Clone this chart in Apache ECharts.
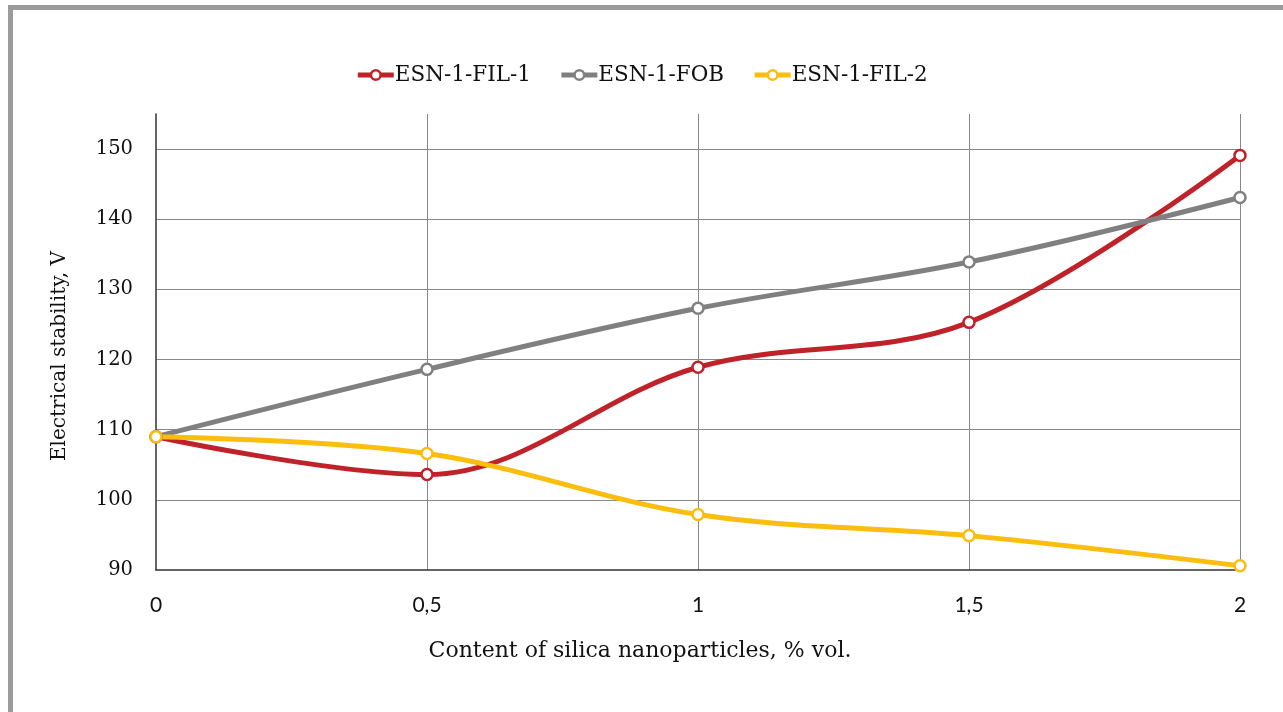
<!DOCTYPE html>
<html>
<head>
<meta charset="utf-8">
<script src="https://cdn.jsdelivr.net/npm/echarts@6/dist/echarts.min.js"></script>
<style>
  html, body { margin: 0; padding: 0; background: #fff; }
  #chart { width: 1283px; height: 712px; }
</style>
</head>
<body>
<div id="chart"></div>
<script>
// silica content, % vol.
const contents = [0, 0.5, 1, 1.5, 2];
const seriesNames = ['ESN-1-FIL-1', 'ESN-1-FOB', 'ESN-1-FIL-2'];
const fil1 = [109, 103.6, 118.9, 125.3, 149.1];
const fob = [109, 118.6, 127.3, 133.9, 143.1];
const fil2 = [109, 106.6, 97.9, 94.9, 90.6];
const colors = ['#c0222a', '#808080', '#fbbd0e'];

const serif = '"DejaVu Serif", "Liberation Serif", serif';
const sans = 'Lato, "Open Sans", sans-serif';

const myChart = echarts.init(document.getElementById('chart'));

function makeSeries(name, values, color) {
  return {
    name: name,
    type: 'line',
    smooth: 0.35,
    data: contents.map((c, i) => [c, values[i]]),
    symbol: 'circle',
    symbolSize: 11,
    itemStyle: { color: '#fff', borderColor: color, borderWidth: 2.5 },
    lineStyle: { color: color, width: 5 },
    emphasis: { disabled: true },
  };
}

const option = {
  animation: false,
  textStyle: { fontFamily: serif },
  color: colors,
  graphic: [
    {
      type: 'rect',
      shape: { x: 10.5, y: 7.5, width: 1400, height: 800 },
      style: { fill: 'none', stroke: '#9b9b9e', lineWidth: 5 },
    },
  ],
  legend: {
    top: 59,
    left: 'center',
    itemWidth: 36,
    itemHeight: 12,
    itemGap: 28,
    textStyle: { fontFamily: serif, fontSize: 21.5, color: '#111', padding: [0, 0, 0, -4] },
    data: seriesNames.map((n, i) => ({
      name: n,
      itemStyle: { color: '#fff', borderColor: colors[i], borderWidth: 2.5 },
      lineStyle: { color: colors[i], width: 5 },
    })),
  },
  grid: { left: 156, right: 43, top: 114, bottom: 142, containLabel: false },
  xAxis: {
    type: 'value',
    min: 0,
    max: 2,
    interval: 0.5,
    name: 'Content of silica nanoparticles, % vol.',
    nameLocation: 'middle',
    nameGap: 70,
    nameTextStyle: { fontFamily: serif, fontSize: 22, color: '#111', padding: [0, 116, 0, 0] },
    axisLine: { lineStyle: { color: '#333', width: 1.5 } },
    axisTick: { show: false },
    axisLabel: {
      margin: 25,
      fontSize: 21,
      color: '#111',
      fontFamily: sans,
      formatter: (v) => String(v).replace('.', ','),
    },
    splitLine: { show: true, showMinLine: false, lineStyle: { color: '#888', width: 1 } },
  },
  yAxis: {
    type: 'value',
    min: 90,
    max: 155,
    interval: 10,
    name: 'Electrical stability, V',
    nameLocation: 'middle',
    nameGap: 86,
    nameTextStyle: { fontFamily: serif, fontSize: 20, color: '#111', padding: [0, 28, 0, 0] },
    axisLine: { show: true, lineStyle: { color: '#333', width: 1.5 } },
    axisTick: { show: false },
    axisLabel: {
      margin: 23,
      fontSize: 19.5,
      color: '#111',
      fontFamily: serif,
      showMaxLabel: false,
    },
    splitLine: { show: true, showMinLine: false, showMaxLine: false, lineStyle: { color: '#888', width: 1 } },
  },
  series: [
    makeSeries(seriesNames[0], fil1, colors[0]),
    makeSeries(seriesNames[1], fob, colors[1]),
    makeSeries(seriesNames[2], fil2, colors[2]),
  ],
};

myChart.setOption(option);
window.addEventListener('resize', () => {
  myChart.resize();
});
</script>
</body>
</html>
